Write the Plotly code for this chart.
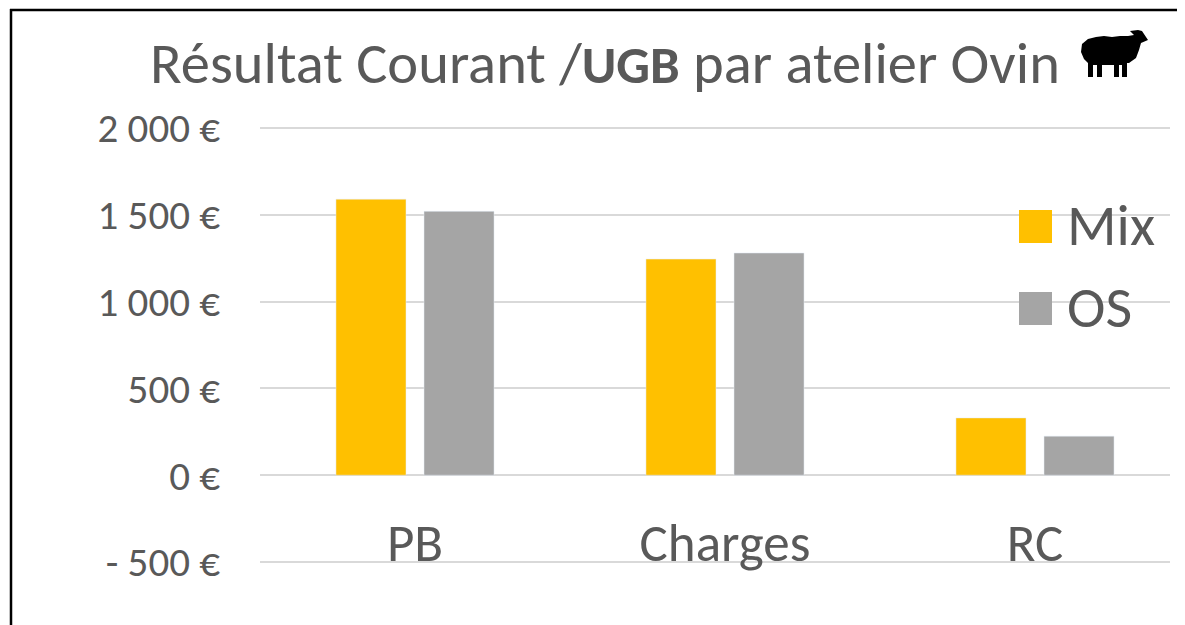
import plotly.graph_objects as go

categories = ["PB", "Charges", "RC"]
mix = [1590, 1245, 330]
os_vals = [1520, 1280, 225]
tick_vals = [-500, 0, 500, 1000, 1500, 2000]
tick_text = ["- 500 €", "0 €", "500 €", "1 000 €", "1 500 €", "2 000 €"]
legend_names = ["Mix", "OS"]
legend_colors = ["#FFC000", "#A5A5A5"]
FONT = "Carlito, Lato, Open Sans, sans-serif"
INK = "#595959"

W, H = 1177, 617      # the page adds an 8 px body margin
ML, MR, MT, MB = 252, 15, 118, 61
PW, PH = W - ML - MR, H - MT - MB


def px(x):
    return (x - 8 - ML) / PW


def py(y):
    return 1 - (y - 8 - MT) / PH


fig = go.Figure()
fig.add_bar(name="Mix", x=categories, y=mix, marker_color=legend_colors[0], showlegend=False)
fig.add_bar(name="OS", x=categories, y=os_vals, marker_color=legend_colors[1], showlegend=False)

shapes = [
    dict(type="line", xref="paper", yref="paper", x0=px(11), x1=px(11), y0=py(9), y1=py(640),
         line=dict(color="black", width=2.5)),
    dict(type="line", xref="paper", yref="paper", x0=px(10), x1=px(1200), y0=py(10), y1=py(10),
         line=dict(color="black", width=2.5)),
]
annotations = []
for name, color, top in zip(legend_names, legend_colors, [210, 292]):
    shapes.append(dict(type="rect", xref="paper", yref="paper", x0=px(1019), x1=px(1052),
                       y0=py(top), y1=py(top + 33), fillcolor=color, line=dict(width=0)))
    annotations.append(dict(text=name, xref="paper", yref="paper", x=px(1065), y=py(top + 15),
                            xanchor="left", yanchor="middle", showarrow=False,
                            font=dict(size=58, color=INK, family=FONT)))

# sheep pictogram
sheep = [(1082, 44), (1088, 39), (1096, 37), (1104, 36), (1112, 37), (1120, 36), (1128, 36), (1134, 35),
         (1130, 31), (1138, 30), (1142, 31), (1148, 40), (1141, 43), (1139, 50), (1136, 58), (1129, 63),
         (1127, 63), (1127, 77), (1122, 77), (1122, 65), (1119, 65), (1119, 77), (1114, 77), (1114, 65),
         (1102, 65), (1102, 77), (1097, 77), (1097, 65), (1093, 65), (1093, 77), (1088, 77), (1088, 63),
         (1084, 59), (1081, 52)]
path = "M " + " L ".join(f"{px(a):.5f} {py(b):.5f}" for a, b in sheep) + " Z"
shapes.append(dict(type="path", xref="paper", yref="paper", path=path, fillcolor="black", line=dict(width=0)))

fig.update_layout(
    width=W, height=H, autosize=False,
    margin=dict(l=ML, r=MR, t=MT, b=MB, autoexpand=False),
    paper_bgcolor="white", plot_bgcolor="white",
    barmode="group", bargap=0.432, bargroupgap=0.2045,
    font=dict(family=FONT, color=INK),
    title=dict(text='Résultat Courant /<b><span style="font-size:53px">UGB</span></b> par atelier Ovin',
               font=dict(size=58.5, color=INK, family=FONT),
               x=(605 - 8) / W, xanchor="center", y=1 - (63 - 8) / H, yanchor="middle"),
    showlegend=False,
    xaxis=dict(range=[-0.5, 2.4355], showline=False, ticks="", tickfont=dict(size=53, color=INK),
               ticklabelstandoff=-57),
    yaxis=dict(range=[-511.5, 2011.5], tickvals=tick_vals, ticktext=tick_text,
               showgrid=True, gridcolor="#D9D9D9", gridwidth=2, zeroline=True,
               zerolinecolor="#D9D9D9", zerolinewidth=2,
               tickfont=dict(size=41, color=INK), ticks="", ticklabelstandoff=39),
    shapes=shapes,
    annotations=annotations,
)
fig.write_html("out.html")
